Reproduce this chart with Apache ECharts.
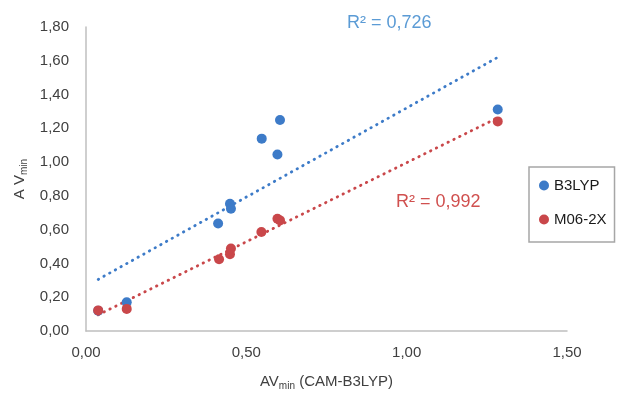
<!DOCTYPE html>
<html><head><meta charset="utf-8">
<script src="https://cdn.jsdelivr.net/npm/echarts@6/dist/echarts.min.js"></script>
<style>html,body{margin:0;padding:0;background:#fff}#c{width:619px;height:396px}</style>
</head><body><div id="c"></div>
<script>
var seriesNames = ['B3LYP', 'M06-2X'];
var xB3LYP = [0.038, 0.127, 0.412, 0.449, 0.452, 0.548, 0.597, 0.605, 1.284];
var yB3LYP = [0.12, 0.17, 0.637, 0.753, 0.724, 1.139, 1.045, 1.249, 1.312];
var xM062X = [0.038, 0.127, 0.415, 0.449, 0.452, 0.547, 0.597, 0.605, 1.284];
var yM062X = [0.122, 0.131, 0.425, 0.455, 0.488, 0.586, 0.665, 0.655, 1.241];
var r2Labels = ['R\u00b2 = 0,726', 'R\u00b2 = 0,992'];
var xTicks = [0, 0.5, 1.0, 1.5];
var yTicks = [0, 0.2, 0.4, 0.6, 0.8, 1.0, 1.2, 1.4, 1.6, 1.8];

var cBlue = '#3d7bc8', cRed = '#c9474a';
function pairs(xs, ys){ return xs.map(function(x,i){return [x, ys[i]];}); }
function fit(xs, ys){
  var n=xs.length, mx=0, my=0;
  for(var i=0;i<n;i++){mx+=xs[i];my+=ys[i];}
  mx/=n; my/=n;
  var sxx=0, sxy=0;
  for(i=0;i<n;i++){sxx+=(xs[i]-mx)*(xs[i]-mx);sxy+=(xs[i]-mx)*(ys[i]-my);}
  var b=sxy/sxx, a=my-b*mx;
  var x0=Math.min.apply(null,xs), x1=Math.max.apply(null,xs);
  return [[x0,a+b*x0],[x1,a+b*x1]];
}
function fmt(v){ return v.toFixed(2).replace('.', ','); }

var chart = echarts.init(document.getElementById('c'), null, {renderer:'canvas'});
var font = 'Liberation Sans';
chart.setOption({
  animation:false,
  textStyle:{fontFamily:font},
  grid:{left:86, right:52, top:27, bottom:63},
  xAxis:{
    type:'value', min:0, max:1.5, interval:0.5,
    axisLine:{show:true, lineStyle:{color:'#bfbfbf', width:1.5}},
    axisTick:{show:false}, splitLine:{show:false},
    axisLabel:{color:'#404040', fontSize:15, margin:14, formatter:fmt},
    name:'{a|AV}{s|min}{a| (CAM-B3LYP)}', nameLocation:'middle', nameGap:42,
    nameTextStyle:{rich:{a:{fontSize:15,color:'#404040',fontFamily:font}, s:{fontSize:10,color:'#404040',padding:[8,0,0,0],fontFamily:font}}}
  },
  yAxis:{
    type:'value', min:0, max:1.8, interval:0.2,
    axisLine:{show:true, lineStyle:{color:'#bfbfbf', width:1.5}},
    axisTick:{show:false}, splitLine:{show:false},
    axisLabel:{color:'#404040', fontSize:15, margin:17, formatter:fmt},
    name:'{a|A V}{s|min}', nameLocation:'middle', nameGap:45, nameRotate:90,
    nameTextStyle:{rich:{a:{fontSize:15,color:'#404040',fontFamily:font}, s:{fontSize:10,color:'#404040',padding:[8,0,0,0],fontFamily:font}}}
  },
  legend:{
    data:[{name:seriesNames[0]},{name:seriesNames[1]}],
    orient:'vertical', left:529, top:167,
    borderColor:'#a6a6a6', borderWidth:1.5, padding:[11,8,15,10],
    itemGap:19, icon:'circle', itemWidth:10, itemHeight:10,
    textStyle:{fontSize:15, color:'#1a1a1a', fontFamily:font}
  },
  series:[
    {name:seriesNames[0]+' trend', type:'line', data:fit(xB3LYP,yB3LYP), symbol:'none', z:1,
     lineStyle:{color:cBlue, width:2.8, type:[0.5,6], cap:'round'}},
    {name:seriesNames[1]+' trend', type:'line', data:fit(xM062X,yM062X), symbol:'none', z:1,
     lineStyle:{color:cRed, width:2.8, type:[0.5,6], cap:'round'}},
    {name:seriesNames[0], type:'scatter', data:pairs(xB3LYP,yB3LYP), symbolSize:10, itemStyle:{color:cBlue, opacity:1}, z:2},
    {name:seriesNames[1], type:'scatter', data:pairs(xM062X,yM062X), symbolSize:10, itemStyle:{color:cRed, opacity:1}, z:3}
  ],
  graphic:[
    {type:'text', left:347, top:14, style:{text:r2Labels[0], fill:'#5b9bd5', font:'18px "'+font+'"'}},
    {type:'text', left:396, top:193, style:{text:r2Labels[1], fill:'#d0504f', font:'18px "'+font+'"'}}
  ]
});
</script></body></html>
